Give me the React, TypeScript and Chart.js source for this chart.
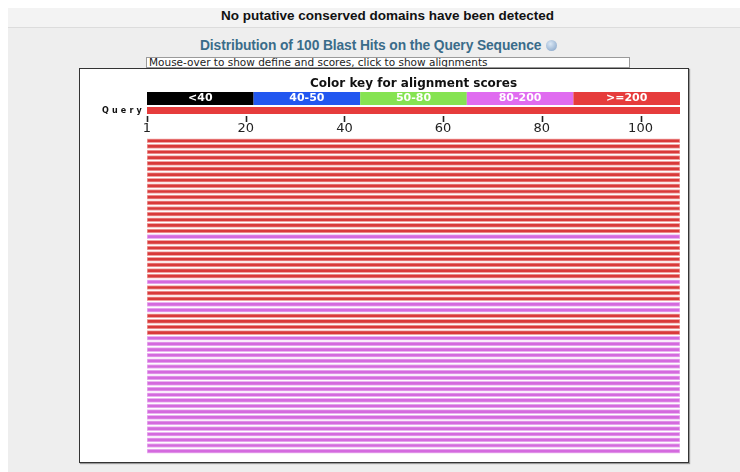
import React, { useEffect, useRef } from "react";
import { Chart, registerables } from "chart.js";

Chart.register(...registerables);

// ---- data ----
const queryFrom = 1;
const queryTo = 108;
const tickValues = [0, 20, 40, 60, 80, 100];
const tickText = ["1", "20", "40", "60", "80", "100"];
const keyTitle = "Color key for alignment scores";
const keyLabels = ["<40", "40-50", "50-80", "80-200", ">=200"];
const keyColors = ["#000000", "#2257f0", "#86e352", "#e06cf0", "#e63c3c"];
const hitFill = ["#000000", "#2257f0", "#86e352", "#d46ade", "#d93a3a"];
const hitEdge = ["#888888", "#a8c0f8", "#c8f0b0", "#eab4f0", "#f0a4a4"];
const hitRank = [
  1, 2, 3, 4, 5, 6, 7, 8, 9, 10, 11, 12, 13, 14, 15, 16, 17, 18, 19, 20,
  21, 22, 23, 24, 25, 26, 27, 28, 29, 30, 31, 32, 33, 34, 35, 36, 37, 38, 39, 40,
  41, 42, 43, 44, 45, 46, 47, 48, 49, 50, 51, 52, 53, 54, 55, 56,
];
const hitFrom = [
  1, 1, 1, 1, 1, 1, 1, 1, 1, 1, 1, 1, 1, 1, 1, 1, 1, 1, 1, 1,
  1, 1, 1, 1, 1, 1, 1, 1, 1, 1, 1, 1, 1, 1, 1, 1, 1, 1, 1, 1,
  1, 1, 1, 1, 1, 1, 1, 1, 1, 1, 1, 1, 1, 1, 1, 1,
];
const hitTo = [
  108, 108, 108, 108, 108, 108, 108, 108, 108, 108, 108, 108, 108, 108, 108, 108, 108, 108, 108, 108,
  108, 108, 108, 108, 108, 108, 108, 108, 108, 108, 108, 108, 108, 108, 108, 108, 108, 108, 108, 108,
  108, 108, 108, 108, 108, 108, 108, 108, 108, 108, 108, 108, 108, 108, 108, 108,
];
// index into keyLabels: 4 = ">=200", 3 = "80-200"
const hitScoreClass = [
  4, 4, 4, 4, 4, 4, 4, 4, 4, 4, 4, 4, 4, 4, 4, 4, 4,
  3,
  4, 4, 4, 4, 4, 4, 4,
  3,
  4, 4, 4,
  3, 3,
  4, 4, 4, 4,
  3, 3, 3, 3, 3, 3, 3, 3, 3, 3, 3, 3, 3, 3, 3, 3, 3, 3, 3, 3, 3,
];

const overlay = {
  id: "blastOverlay",
  afterDraw(chart: any) {
    const { ctx } = chart;
    const x = chart.scales.x;
    const left = x.getPixelForValue(queryFrom - 1);
    const right = x.getPixelForValue(queryTo);
    ctx.save();
    // key title
    ctx.fillStyle = "#111";
    ctx.font = "bold 12px 'DejaVu Sans'";
    ctx.textAlign = "center";
    ctx.textBaseline = "middle";
    ctx.fillText(keyTitle, (left + right) / 2, 15);
    // key boxes
    const n = keyLabels.length;
    const span = queryTo - (queryFrom - 1);
    for (let i = 0; i < n; i++) {
      const x0 = x.getPixelForValue(queryFrom - 1 + (span * i) / n);
      const x1 = x.getPixelForValue(queryFrom - 1 + (span * (i + 1)) / n);
      ctx.fillStyle = keyColors[i];
      ctx.fillRect(x0, 23, x1 - x0, 13);
      ctx.fillStyle = "#ffffff";
      ctx.font = "bold 11px 'DejaVu Sans'";
      ctx.fillText(keyLabels[i], (x0 + x1) / 2, 29.5);
    }
    // query bar
    ctx.fillStyle = keyColors[4];
    ctx.fillRect(left, 38, right - left, 7);
    // query label
    ctx.fillStyle = "#111";
    ctx.font = "bold 8px 'DejaVu Sans'";
    (ctx as any).letterSpacing = "3.2px";
    ctx.textAlign = "right";
    ctx.fillText("Query", left - 2, 41.5);
    (ctx as any).letterSpacing = "0px";
    // tick marks
    ctx.strokeStyle = "#222";
    ctx.lineWidth = 1.6;
    for (const v of tickValues) {
      const px = Math.round(x.getPixelForValue(v)) + 0.5;
      ctx.beginPath();
      ctx.moveTo(px, 47);
      ctx.lineTo(px, 53);
      ctx.stroke();
    }
    ctx.restore();
  },
};

export default function App() {
  const ref = useRef<HTMLCanvasElement | null>(null);

  useEffect(() => {
    if (!ref.current) return;
    const chart = new Chart(ref.current, {
      type: "bar",
      data: {
        labels: hitRank.map((r) => String(r)),
        datasets: [
          {
            label: "Blast hits",
            data: hitFrom.map((f, i) => [f - 1, hitTo[i]]) as any,
            backgroundColor: hitScoreClass.map((c) => hitFill[c]),
            borderColor: hitScoreClass.map((c) => hitEdge[c]),
            borderWidth: 1,
            borderSkipped: false,
            barThickness: 4,
          },
        ],
      },
      options: {
        indexAxis: "y",
        animation: false,
        responsive: false,
        maintainAspectRatio: false,
        events: [],
        layout: { padding: { left: 67, right: 8, top: 50.9, bottom: 8 } },
        plugins: {
          legend: { display: false },
          tooltip: { enabled: false },
          title: { display: false },
        },
        scales: {
          x: {
            type: "linear",
            position: "top",
            min: 0,
            max: queryTo,
            afterBuildTicks: (axis: any) => {
              axis.ticks = tickValues.map((v) => ({ value: v }));
            },
            grid: { display: false, drawTicks: false },
            border: { display: false },
            ticks: {
              padding: 1.2,
              color: "#222",
              font: { family: "'DejaVu Sans'", size: 13 },
              maxRotation: 0,
              autoSkip: false,
              callback: (v: any) => {
                const i = tickValues.indexOf(Number(v));
                return i >= 0 ? tickText[i] : "";
              },
            },
          },
          y: {
            type: "category",
            display: false,
            grid: { display: false },
          },
        },
      },
      plugins: [overlay],
    });
    return () => chart.destroy();
  }, []);

  return (
    <div
      style={{
        position: "absolute",
        left: 0,
        top: 0,
        width: 740,
        height: 472,
        background: "#ffffff",
        overflow: "hidden",
        fontFamily: "Arial, 'Liberation Sans', sans-serif",
      }}
    >
      <div
        style={{
          position: "absolute",
          left: 8,
          top: 8,
          right: 0,
          bottom: 0,
          background: "#eeeeee",
        }}
      />
      <div
        style={{
          position: "absolute",
          left: 8,
          top: 8,
          right: 0,
          height: 19,
          background: "#f3f3f3",
          borderBottom: "1px solid #dcdcdc",
        }}
      />
      <div
        style={{
          position: "absolute",
          left: 35,
          right: 0,
          top: 8,
          textAlign: "center",
          fontWeight: "bold",
          fontSize: 13.5,
          color: "#111",
          lineHeight: "16px",
        }}
      >
        No putative conserved domains have been detected
      </div>
      <div
        style={{
          position: "absolute",
          left: 200,
          top: 38,
          width: 400,
          fontWeight: "bold",
          fontSize: 13.8,
          color: "#3a6c8a",
          letterSpacing: "-0.1px",
          lineHeight: "16px",
          whiteSpace: "nowrap",
        }}
      >
        Distribution of 100 Blast Hits on the Query Sequence
        <span
          style={{
            display: "inline-block",
            width: 11,
            height: 11,
            borderRadius: 6,
            marginLeft: 5,
            verticalAlign: "-1px",
            background: "radial-gradient(circle at 40% 35%, #dbe8f5, #7f9fc4)",
          }}
        />
      </div>
      <div
        style={{
          position: "absolute",
          left: 146,
          top: 57,
          width: 484,
          height: 11,
          boxSizing: "border-box",
          background: "#ffffff",
          border: "1px solid #9a9a9a",
          fontFamily: "'DejaVu Sans', sans-serif",
          fontSize: 10.5,
          lineHeight: "9px",
          paddingLeft: 2,
          color: "#222",
          whiteSpace: "nowrap",
          overflow: "hidden",
        }}
      >
        Mouse-over to show define and scores, click to show alignments
      </div>
      <div
        style={{
          position: "absolute",
          left: 79,
          top: 68,
          width: 610,
          height: 395,
          boxSizing: "border-box",
          background: "#ffffff",
          border: "1px solid #333333",
          boxShadow: "1px 1px 1px #999999",
        }}
      >
        <canvas
          ref={ref}
          width={608}
          height={393}
          style={{ position: "absolute", left: 0, top: 0, width: 608, height: 393 }}
        />
      </div>
    </div>
  );
}
